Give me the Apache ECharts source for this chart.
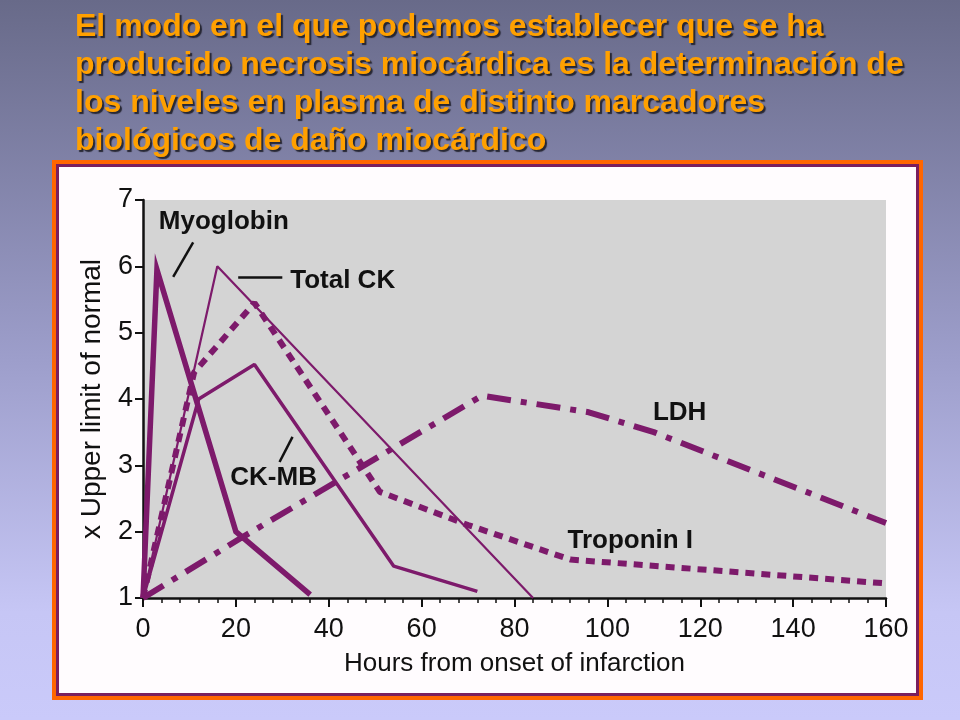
<!DOCTYPE html>
<html>
<head>
<meta charset="utf-8">
<script src="https://cdn.jsdelivr.net/npm/echarts@6/dist/echarts.min.js"></script>
<style>
html,body{margin:0;padding:0;}
#c{width:960px;height:720px;}
</style>
</head>
<body>
<div id="c"></div>
<script>
// ---- data (hours, x upper limit of normal) ----
var titleLines = [
  'El modo en el que podemos establecer que se ha',
  'producido necrosis miocárdica es la determinación de',
  'los niveles en plasma de distinto marcadores',
  'biológicos de daño miocárdico'
];
var xTicks = [0, 20, 40, 60, 80, 100, 120, 140, 160];
var yTicks = [1, 2, 3, 4, 5, 6, 7];
var myoglobin = [[0, 1], [3, 5.95], [20, 2], [36, 1.05]];
var totalCK   = [[0, 1], [16, 6], [84, 1]];
var ckMB      = [[0, 1], [12, 4], [24, 4.52], [54, 1.48], [72, 1.1]];
var troponinI = [[0, 1], [11, 4.4], [24, 5.45], [51, 2.6], [70, 2.1], [92, 1.58], [160, 1.22]];
var ldh       = [[0, 1], [21, 1.9], [73, 4.05], [96, 3.8], [110, 3.5], [160, 2.13]];
var seriesNames = ['Myoglobin', 'Total CK', 'CK-MB', 'Troponin I', 'LDH'];

// annotation anchors in data units
var labelAnchors = [
  {text: 'Myoglobin', at: [3.4, 6.67]},
  {text: 'Total CK', at: [31.7, 5.78]},
  {text: 'CK-MB', at: [18.8, 2.81]},
  {text: 'LDH', at: [109.8, 3.79]},
  {text: 'Troponin I', at: [91.4, 1.86]}
];
var leaders = [
  [[6.5, 5.84], [10.8, 6.36]],
  [[20.5, 5.83], [30.0, 5.83]],
  [[29.4, 3.05], [32.2, 3.43]]
];

var PURPLE = '#7d1a6b';
var FONT = '"Liberation Sans", Arial, Helvetica, sans-serif';

var chart = echarts.init(document.getElementById('c'), null, {renderer: 'canvas'});

var frame = [
  {type: 'rect', z: -10, shape: {x: 52, y: 160, width: 871, height: 540}, style: {fill: '#ff6600'}},
  {type: 'rect', z: -9, shape: {x: 56, y: 164, width: 863, height: 532}, style: {fill: '#7a1f5e'}},
  {type: 'rect', z: -8, shape: {x: 59, y: 167, width: 857, height: 526}, style: {fill: '#fffcfe'}}
];

var option = {
  animation: false,
  backgroundColor: {
    type: 'linear', x: 0, y: 0, x2: 0, y2: 1,
    colorStops: [
      {offset: 0, color: '#686a89'},
      {offset: 0.5, color: '#9d9ecb'},
      {offset: 0.85, color: '#c6c6f5'},
      {offset: 1, color: '#cacafa'}
    ]
  },
  title: {
    text: titleLines.join('\n'),
    left: 70, top: 3,
    textStyle: {
      fontFamily: FONT, fontWeight: 'bold', fontSize: 32, lineHeight: 38,
      color: '#ffa000',
      textShadowColor: 'rgba(30,30,40,0.9)', textShadowOffsetX: 2, textShadowOffsetY: 2, textShadowBlur: 1
    }
  },
  grid: {
    left: 143, right: 74, top: 200, bottom: 122,
    show: true, backgroundColor: '#d4d4d4', borderWidth: 0, containLabel: false
  },
  xAxis: {
    type: 'value', min: xTicks[0], max: xTicks[xTicks.length - 1], interval: 20,
    name: 'Hours from onset of infarction', nameLocation: 'middle', nameGap: 53,
    nameTextStyle: {fontFamily: FONT, fontSize: 26, color: '#111'},
    axisLine: {show: true, onZero: false, lineStyle: {color: '#111', width: 2.5}},
    axisTick: {show: true, length: 9, lineStyle: {color: '#111', width: 2}},
    minorTick: {show: true, splitNumber: 5, length: 5, lineStyle: {color: '#111', width: 1.5}},
    axisLabel: {fontFamily: FONT, fontSize: 27, color: '#111', margin: 18},
    splitLine: {show: false}
  },
  yAxis: {
    type: 'value', min: yTicks[0], max: yTicks[yTicks.length - 1], interval: 1,
    name: 'x Upper limit of normal', nameLocation: 'middle', nameGap: 37,
    nameTextStyle: {fontFamily: FONT, fontSize: 28, color: '#111'},
    axisLine: {show: true, onZero: false, lineStyle: {color: '#111', width: 2.5}},
    axisTick: {show: true, length: 8, lineStyle: {color: '#111', width: 2}},
    axisLabel: {fontFamily: FONT, fontSize: 27, color: '#111', margin: 10},
    splitLine: {show: false}
  },
  series: [
    {name: seriesNames[0], type: 'line', data: myoglobin, symbol: 'none', z: 5,
     lineStyle: {color: PURPLE, width: 5.5, join: 'miter'}},
    {name: seriesNames[1], type: 'line', data: totalCK, symbol: 'none', z: 4,
     lineStyle: {color: PURPLE, width: 2.2}},
    {name: seriesNames[2], type: 'line', data: ckMB, symbol: 'none', z: 4,
     lineStyle: {color: PURPLE, width: 3.5}},
    {name: seriesNames[3], type: 'line', data: troponinI, symbol: 'none', z: 3,
     lineStyle: {color: PURPLE, width: 6, type: [9, 7], cap: 'butt'}},
    {name: seriesNames[4], type: 'line', data: ldh, symbol: 'none', z: 3,
     lineStyle: {color: PURPLE, width: 6, type: [24, 10, 6, 10], cap: 'butt'}}
  ],
  graphic: frame
};
chart.setOption(option);

function px(p) { return chart.convertToPixel({gridIndex: 0}, p); }
var g = frame.slice();
labelAnchors.forEach(function (a) {
  var p = px(a.at);
  g.push({type: 'text', z: 20, x: p[0], y: p[1],
    style: {text: a.text, fill: '#111', font: 'bold 26px ' + FONT, textAlign: 'left', textVerticalAlign: 'middle', verticalAlign: 'middle'}});
});
leaders.forEach(function (l) {
  var a = px(l[0]), b = px(l[1]);
  g.push({type: 'line', z: 20, shape: {x1: a[0], y1: a[1], x2: b[0], y2: b[1]},
    style: {stroke: '#111', lineWidth: 2.5}});
});
chart.setOption({graphic: g}, {replaceMerge: ['graphic']});
</script>
</body>
</html>
